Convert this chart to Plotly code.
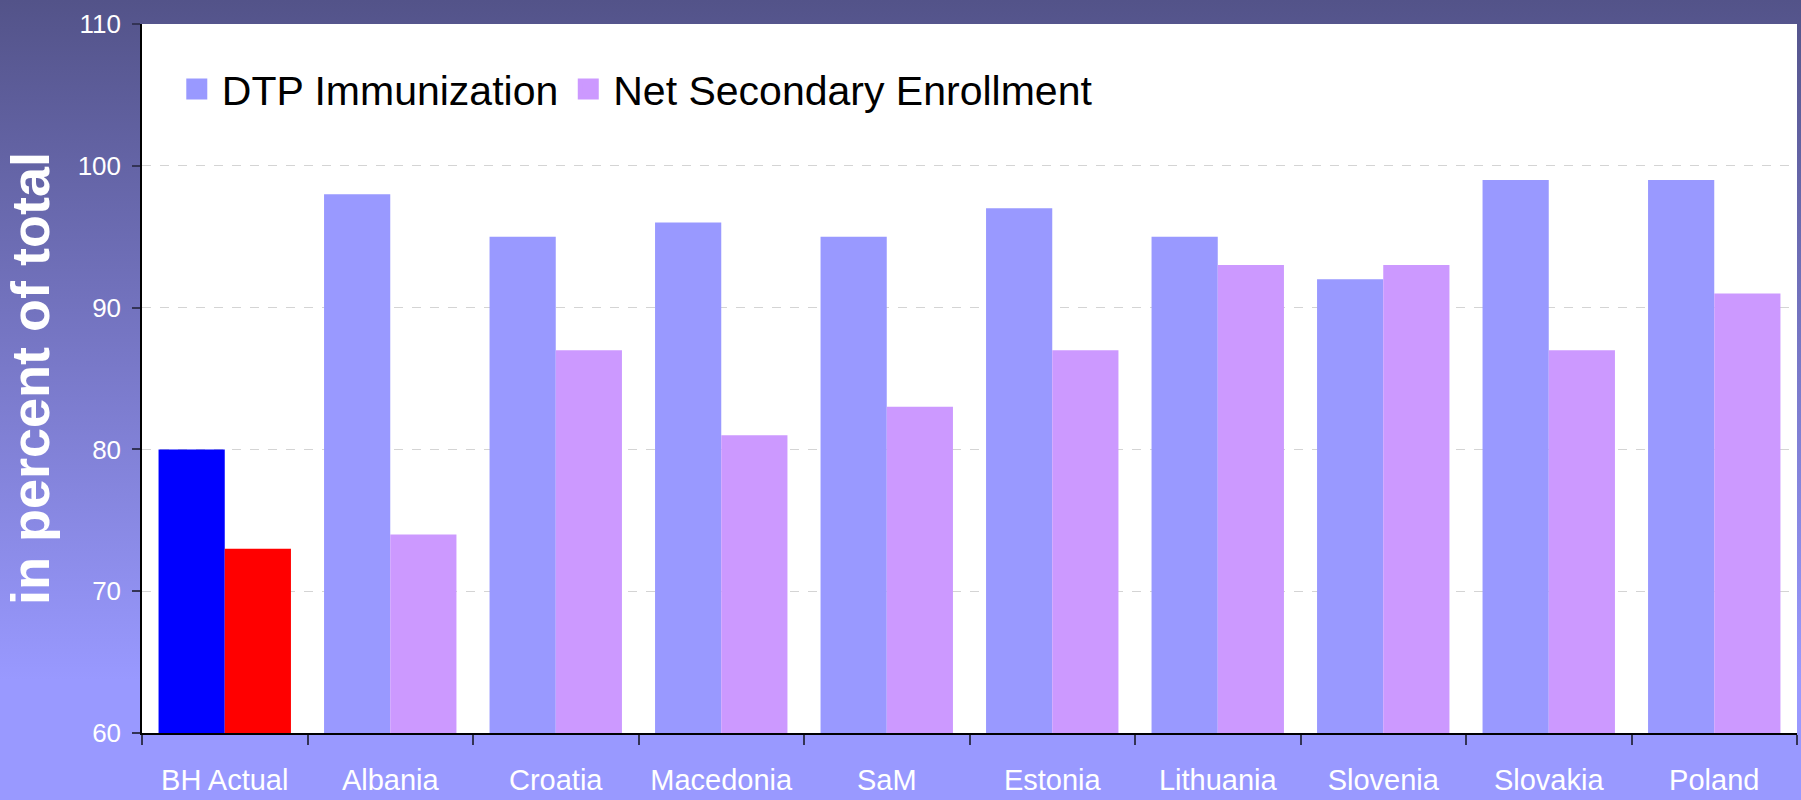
import base64
import plotly.graph_objects as go

categories = ["BH Actual", "Albania", "Croatia", "Macedonia", "SaM", "Estonia",
              "Lithuania", "Slovenia", "Slovakia", "Poland"]
dtp_immunization = [80, 98, 95, 96, 95, 97, 95, 92, 99, 99]
net_secondary_enrollment = [73, 74, 87, 81, 83, 87, 93, 93, 87, 91]
series_names = ["DTP Immunization", "Net Secondary Enrollment"]

dtp_color = "#9999FF"
nse_color = "#CC99FF"
bh_dtp_color = "#0000FF"
bh_nse_color = "#FF0000"

fig = go.Figure()
# Highlighted BH bars (own traces so the series colours stay on the rest)
fig.add_trace(go.Bar(x=categories[:1], y=dtp_immunization[:1], offsetgroup="dtp",
                     marker=dict(color=bh_dtp_color, line=dict(width=0)), showlegend=False,
                     name=series_names[0]))
fig.add_trace(go.Bar(x=categories[:1], y=net_secondary_enrollment[:1], offsetgroup="nse",
                     marker=dict(color=bh_nse_color, line=dict(width=0)), showlegend=False,
                     name=series_names[1]))
fig.add_trace(go.Bar(x=categories[1:], y=dtp_immunization[1:], offsetgroup="dtp",
                     marker=dict(color=dtp_color, line=dict(width=0)), showlegend=False,
                     name=series_names[0], legendgroup="dtp"))
fig.add_trace(go.Bar(x=categories[1:], y=net_secondary_enrollment[1:], offsetgroup="nse",
                     marker=dict(color=nse_color, line=dict(width=0)), showlegend=False,
                     name=series_names[1], legendgroup="nse"))
# legend entries with larger square swatches
for name, col, grp in [(series_names[0], dtp_color, "dtp"), (series_names[1], nse_color, "nse")]:
    fig.add_trace(go.Scatter(x=[None], y=[None], mode="markers", name=name, legendgroup=grp,
                             marker=dict(symbol="square", size=16, color=col,
                                         line=dict(color=col, width=5)),
                             hoverinfo="skip"))

# vertical background gradient as an inline SVG image
svg = ('<svg xmlns="http://www.w3.org/2000/svg" width="100" height="100" preserveAspectRatio="none">'
       '<defs><linearGradient id="g" x1="0" y1="0" x2="0" y2="1">'
       '<stop offset="0" stop-color="#535389"/>'
       '<stop offset="0.85" stop-color="#9999FF"/>'
       '<stop offset="1" stop-color="#9999FF"/>'
       '</linearGradient></defs><rect width="100" height="100" fill="url(#g)"/></svg>')
src = "data:image/svg+xml;base64," + base64.b64encode(svg.encode()).decode()

W, H = 1801, 800
ml, mr, mt, mb = 142, 4, 24, 67
pw, ph = W - ml - mr, H - mt - mb

fig.update_layout(
    width=W, height=H,
    margin=dict(l=ml, r=mr, t=mt, b=mb),
    paper_bgcolor="#7777C4",
    plot_bgcolor="rgba(0,0,0,0)",
    barmode="group", bargap=0.2, bargroupgap=0,
    images=[dict(source=src, xref="paper", yref="paper",
                 x=-ml / pw, y=1 + mt / ph, sizex=W / pw, sizey=H / ph,
                 xanchor="left", yanchor="top", sizing="stretch", layer="below")],
    shapes=[dict(type="rect", xref="paper", yref="paper", x0=0, x1=1, y0=0, y1=1,
                 fillcolor="white", line=dict(width=0), layer="below")],
    legend=dict(orientation="h", x=0.018, y=0.955, xanchor="left", yanchor="top",
                bgcolor="rgba(0,0,0,0)",
                font=dict(family="Liberation Sans, Arial", size=41, color="black"),
                itemwidth=40, tracegroupgap=0, itemsizing="trace"),
    font=dict(family="Liberation Sans, Arial", color="white"),
)
fig.update_xaxes(
    type="category", showline=True, linecolor="black", linewidth=1.5,
    ticks="outside", ticklen=10, tickcolor="#333355", tickwidth=1.5,
    tickson="boundaries", showgrid=False,
    tickfont=dict(family="Liberation Sans, Arial", size=29, color="white"),
    ticklabelstandoff=20,
)
fig.update_yaxes(
    range=[60, 110], dtick=10, showline=True, linecolor="black", linewidth=1.5,
    ticks="outside", ticklen=8, tickcolor="#333355", tickwidth=1.5,
    showgrid=True, gridcolor="#D4D4D4", griddash="dash", gridwidth=1,
    zeroline=False,
    tickfont=dict(family="Liberation Sans, Arial", size=26, color="white"),
    ticklabelstandoff=6,
    title=dict(text="in percent of total", standoff=24,
               font=dict(family="Liberation Sans, Arial", size=54, color="white", weight="bold")),
)

fig.write_html("out.html", config={"displayModeBar": False},
               post_script="document.body.style.margin='0';document.body.style.overflow='hidden';")
